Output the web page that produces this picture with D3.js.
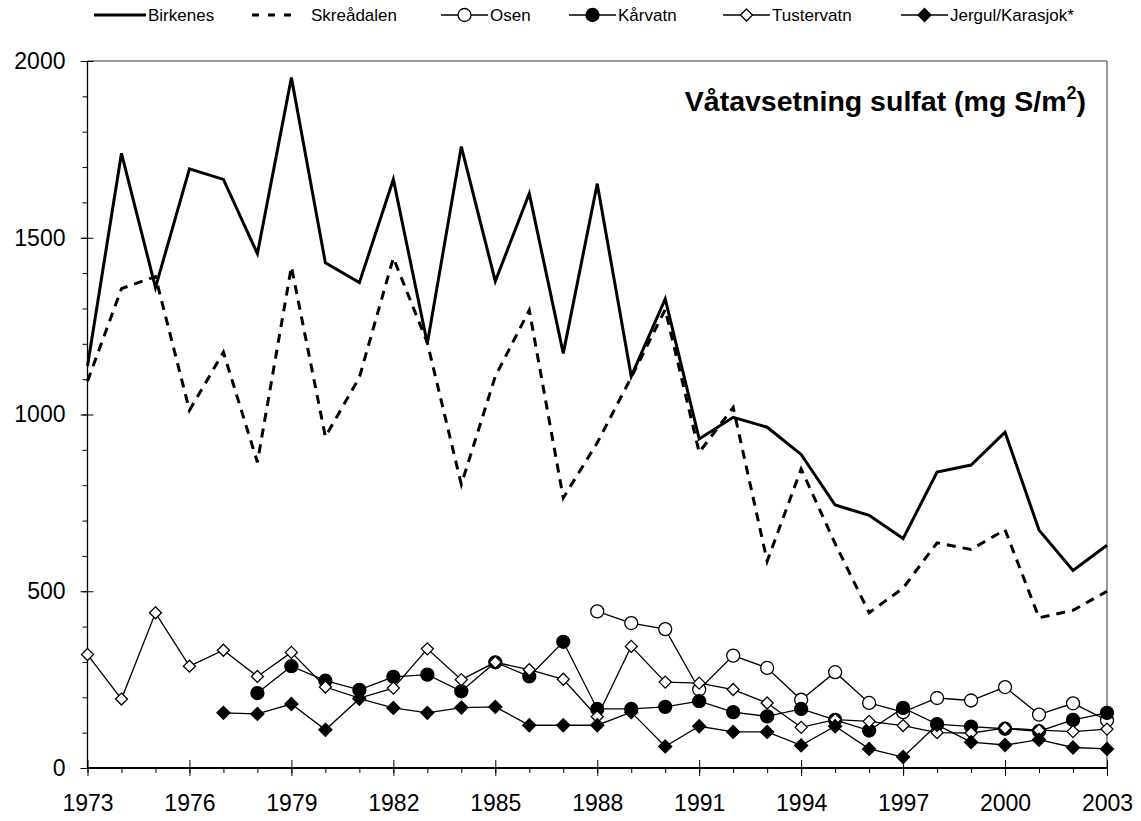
<!DOCTYPE html>
<html>
<head>
<meta charset="utf-8">
<script src="https://cdn.jsdelivr.net/npm/d3@7"></script>
<style>
  body { margin: 0; background: #fff; }
  svg { display: block; font-family: Arial, "Liberation Sans", sans-serif; }
</style>
</head>
<body>
<svg id="chart" width="1141" height="821"></svg>
<script>
// data (mg S/m2)
const years = [1973, 1974, 1975, 1976, 1977, 1978, 1979, 1980, 1981, 1982, 1983, 1984, 1985, 1986, 1987,
  1988, 1989, 1990, 1991, 1992, 1993, 1994, 1995, 1996, 1997, 1998, 1999, 2000, 2001, 2002, 2003];
const xTickLabels = [1973, 1976, 1979, 1982, 1985, 1988, 1991, 1994, 1997, 2000, 2003];
const yTickLabels = [0, 500, 1000, 1500, 2000];

const birkenes = [1137, 1739, 1359, 1695, 1665, 1455, 1953, 1429, 1373, 1665, 1201, 1758, 1377, 1625, 1173,
  1653, 1108, 1327, 931, 992, 964, 887, 744, 715, 649, 837, 857, 950, 673, 559, 630];
const skreadalen = [1094, 1356, 1390, 1012, 1176, 865, 1418, 937, 1105, 1443, 1203, 802, 1108, 1295, 764,
  920, 1105, 1297, 893, 1020, 585, 846, 635, 439, 509, 637, 618, 674, 425, 446, 500];
const osenStart = 1988;
const osen = [443, 410, 393, 222, 318, 283, 193, 271, 184, 158, 198, 191, 229, 151, 183, 135];
const karvatnStart = 1978;
const karvatn = [212, 288, 247, 221, 258, 264, 217, 299, 259, 357, 167, 167, 173, 189, 158, 146, 167, 136,
  106, 170, 124, 117, 111, 104, 136, 156];
const tustervatn = [321, 195, 439, 288, 333, 259, 327, 229, 198, 226, 337, 250, 299, 278, 251, 145, 344, 243,
  240, 222, 184, 115, 137, 132, 120, 100, 99, 113, 107, 103, 110];
const jergulStart = 1977;
const jergul = [156, 153, 181, 108, 196, 170, 156, 171, 173, 121, 121, 121, 158, 61, 118, 102, 102, 64, 118,
  54, 31, 122, 73, 65, 80, 58, 54];

const toPoints = (vals, start) => vals.map((v, i) => ({ year: start + i, value: v }));

const series = [
  { name: "Birkenes", pts: toPoints(birkenes, years[0]), width: 3, dash: null, marker: null },
  { name: "Skreådalen", pts: toPoints(skreadalen, years[0]), width: 3, dash: "9,7", marker: null },
  { name: "Osen", pts: toPoints(osen, osenStart), width: 1.3, dash: null, marker: "circle", fill: "#fff" },
  { name: "Kårvatn", pts: toPoints(karvatn, karvatnStart), width: 1.3, dash: null, marker: "circle", fill: "#000" },
  { name: "Tustervatn", pts: toPoints(tustervatn, years[0]), width: 1.3, dash: null, marker: "diamond", fill: "#fff" },
  { name: "Jergul/Karasjok*", pts: toPoints(jergul, jergulStart), width: 1.3, dash: null, marker: "diamond", fill: "#000" }
];

const svg = d3.select("#chart");
const margin = { top: 61, right: 34, bottom: 53, left: 87.5 };
const W = +svg.attr("width"), H = +svg.attr("height");

const x = d3.scaleLinear().domain([years[0], years[years.length - 1]]).range([margin.left, W - margin.right]);
const y = d3.scaleLinear().domain([0, 2000]).range([H - margin.bottom, margin.top]);

// frame (top and right)
svg.append("path")
  .attr("d", `M${x.range()[0]},${y(2000)}H${x.range()[1]}V${y(0)}`)
  .attr("fill", "none")
  .attr("stroke", "#333")
  .attr("stroke-width", 1);

// y axis: minor ticks outside, major ticks crossing
const yAxis = svg.append("g").attr("transform", `translate(${x.range()[0]},0)`);
yAxis.call(d3.axisLeft(y).tickValues(d3.range(0, 2001, 100)).tickSize(5).tickFormat(""))
  .call(g => g.select(".domain").remove());
yAxis.append("g")
  .call(d3.axisLeft(y).tickValues(yTickLabels).tickSize(7).tickPadding(15).tickFormat(d3.format("d")))
  .call(g => g.select(".domain").remove())
  .call(g => g.selectAll(".tick line").attr("x2", 6).attr("x1", -7))
  .call(g => g.selectAll("text").style("font-size", "23px").attr("fill", "#000"));
yAxis.append("line")
  .attr("y1", y(0)).attr("y2", y(2000))
  .attr("stroke", "#000").attr("stroke-width", 1.3);

// x axis
const xAxis = svg.append("g").attr("transform", `translate(0,${y(0)})`);
xAxis.call(d3.axisBottom(x).tickValues(years).tickSize(5).tickFormat(""))
  .call(g => g.select(".domain").remove());
xAxis.append("g")
  .call(d3.axisBottom(x).tickValues(xTickLabels).tickSize(8).tickPadding(19).tickFormat(d3.format("d")))
  .call(g => g.select(".domain").remove())
  .call(g => g.selectAll(".tick line").attr("y1", -8).attr("y2", 8))
  .call(g => g.selectAll("text").style("font-size", "23px").attr("fill", "#000"));
xAxis.append("line")
  .attr("x1", x.range()[0]).attr("x2", x.range()[1])
  .attr("stroke", "#000").attr("stroke-width", 2);

svg.selectAll(".tick line").attr("stroke", "#000");

// markers
const diamond = r => `M0,${-r}L${r},0L0,${r}L${-r},0Z`;
function drawMarker(sel, s) {
  if (s.marker === "circle") {
    sel.append("circle").attr("r", 6.5)
      .attr("fill", s.fill).attr("stroke", "#000").attr("stroke-width", 1.3);
  } else if (s.marker === "diamond") {
    sel.append("path").attr("d", diamond(s.fill === "#000" ? 6.5 : 6))
      .attr("fill", s.fill).attr("stroke", "#000").attr("stroke-width", 1.3);
  }
}

const line = d3.line().x(d => x(d.year)).y(d => y(d.value));
const plot = svg.append("g");

series.forEach(s => {
  const g = plot.append("g");
  g.append("path")
    .datum(s.pts)
    .attr("d", line)
    .attr("fill", "none")
    .attr("stroke", "#000")
    .attr("stroke-width", s.width)
    .attr("stroke-linejoin", "miter")
    .attr("stroke-dasharray", s.dash);
  if (s.marker) {
    g.selectAll("g.pt")
      .data(s.pts)
      .join("g")
      .attr("class", "pt")
      .attr("transform", d => `translate(${x(d.year)},${y(d.value)})`)
      .each(function () { drawMarker(d3.select(this), s); });
  }
});

// title
const title = svg.append("text")
  .attr("x", 1086)
  .attr("y", 111)
  .attr("text-anchor", "end")
  .style("font-size", "28.5px")
  .style("font-weight", "bold");
title.append("tspan").text("Våtavsetning sulfat (mg S/m");
title.append("tspan").attr("dy", -12).style("font-size", "18px").text("2");
title.append("tspan").attr("dy", 12).text(")");

// legend
const legendX = [94, 252, 441, 569, 723, 901];
const legend = svg.append("g").attr("transform", "translate(0,15)");
series.forEach((s, i) => {
  const g = legend.append("g").attr("transform", `translate(${legendX[i]},0)`);
  const len = s.dash ? 41 : (s.marker ? 47 : 52);
  g.append("line")
    .attr("x1", 0).attr("x2", len)
    .attr("stroke", "#000")
    .attr("stroke-width", s.width)
    .attr("stroke-dasharray", s.dash ? "7,9" : null);
  if (s.marker) {
    const m = g.append("g").attr("transform", `translate(${len / 2},0)`);
    drawMarker(m, s);
  }
  g.append("text")
    .attr("x", s.dash ? len + 18 : len + 2)
    .attr("dy", "0.35em")
    .style("font-size", "17px")
    .text(s.name);
});
</script>
</body>
</html>
